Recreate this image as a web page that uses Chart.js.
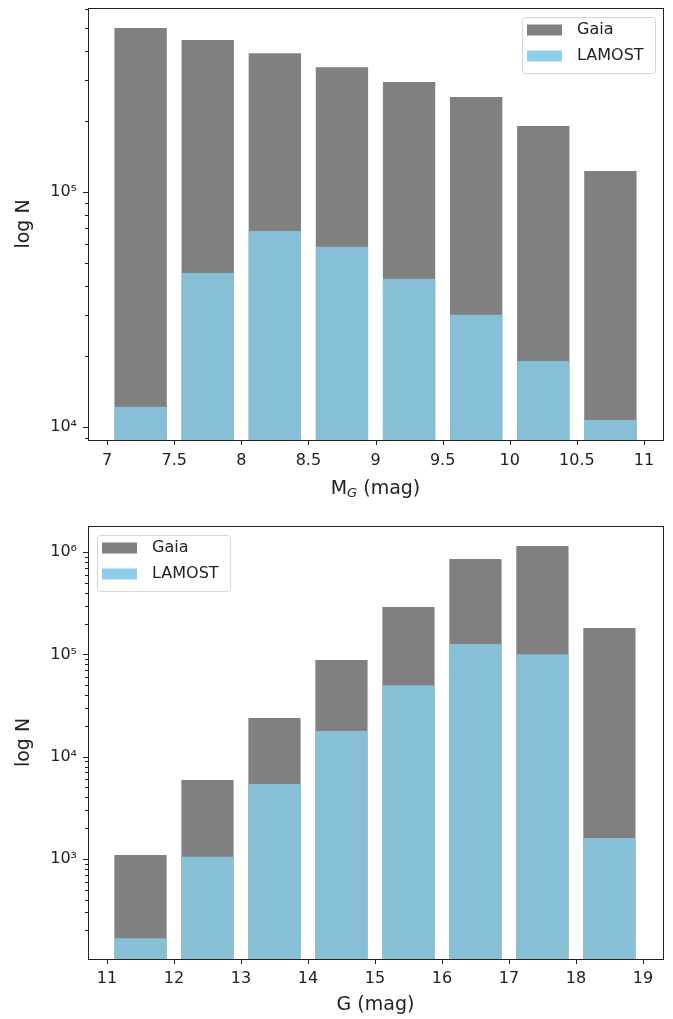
<!DOCTYPE html>
<html>
<head>
<meta charset="utf-8">
<script src="https://cdn.jsdelivr.net/npm/chart.js@4.4.1/dist/chart.umd.min.js"></script>
<style>
  html, body { margin: 0; padding: 0; background: #fff; }
  canvas { display: block; }
</style>
</head>
<body>
<canvas id="chart-abs" width="673" height="505"></canvas>
<canvas id="chart-app" width="673" height="514"></canvas>
<script>
// absolute magnitude bins (top panel)
const absBins   = [7.25, 7.75, 8.25, 8.75, 9.25, 9.75, 10.25, 10.75];
const absGaia   = [499000, 444000, 390000, 340000, 294000, 254000, 191000, 123000];
const absLamost = [12200, 45200, 68200, 58500, 42700, 30000, 19100, 10700];

// apparent magnitude bins (bottom panel)
const appBins   = [11.5, 12.5, 13.5, 14.5, 15.5, 16.5, 17.5, 18.5];
const appGaia   = [1090, 5900, 23900, 88000, 290000, 857000, 1150000, 181000];
const appLamost = [168, 1050, 5400, 17800, 50000, 126000, 100000, 1600];

const seriesNames = ['Gaia', 'LAMOST'];

const GAIA_COLOR = '#808080';
const LAMOST_COLOR = 'rgba(135,206,235,0.8)';
const LAMOST_SWATCH = '#8dcfea';
const INK = '#222';
const FONT = "'DejaVu Sans', sans-serif";
const SUP = '⁰¹²³⁴⁵⁶⁷⁸⁹';

function powLabel(v) {
  const e = Math.round(Math.log10(v));
  if (Math.abs(v - Math.pow(10, e)) > 1e-6 * v) return '';
  return '10' + String(e).split('').map(d => SUP[+d]).join('');
}

function logTicks(min, max) {
  const ticks = [];
  for (let e = Math.floor(Math.log10(min)); e <= Math.ceil(Math.log10(max)); e++) {
    for (let m = 1; m <= 9; m++) {
      const v = m * Math.pow(10, e);
      if (v >= min && v <= max) ticks.push({ value: v, major: m === 1 });
    }
  }
  return ticks;
}

function stepTicks(min, max, step) {
  const ticks = [];
  for (let k = Math.ceil(min / step); k * step <= max + 1e-9; k++) {
    ticks.push({ value: Math.round(k * step * 1000) / 1000 });
  }
  return ticks;
}

function roundRect(ctx, x, y, w, h, r) {
  ctx.beginPath();
  ctx.moveTo(x + r, y);
  ctx.lineTo(x + w - r, y);
  ctx.arcTo(x + w, y, x + w, y + r, r);
  ctx.lineTo(x + w, y + h - r);
  ctx.arcTo(x + w, y + h, x + w - r, y + h, r);
  ctx.lineTo(x + r, y + h);
  ctx.arcTo(x, y + h, x, y + h - r, r);
  ctx.lineTo(x, y + r);
  ctx.arcTo(x, y, x + r, y, r);
  ctx.closePath();
}

// frame, tick marks, legend box and axis titles, matplotlib style
const mplDecor = {
  id: 'mplDecor',
  afterDraw(chart, args, opts) {
    const ctx = chart.ctx;
    const a = chart.chartArea;
    const xs = chart.scales.x, ys = chart.scales.y;
    ctx.save();

    ctx.strokeStyle = INK;
    ctx.lineWidth = 1;
    ctx.beginPath();
    xs.ticks.forEach(t => {
      const px = Math.round(xs.getPixelForValue(t.value)) + 0.5;
      ctx.moveTo(px, a.bottom);
      ctx.lineTo(px, a.bottom + 5);
    });
    ys.ticks.forEach(t => {
      const py = Math.round(ys.getPixelForValue(t.value)) + 0.5;
      ctx.moveTo(a.left, py);
      ctx.lineTo(a.left - (t.major ? 5 : 3), py);
    });
    ctx.stroke();
    ctx.strokeRect(Math.round(a.left) + 0.5, Math.round(a.top) + 0.5,
                   Math.round(a.right - a.left), Math.round(a.bottom - a.top));

    // legend
    const w = 133, h = 56;
    const lx = opts.legendSide === 'right' ? a.right - 8 - w : a.left + 9;
    const ly = a.top + 9;
    roundRect(ctx, lx + 0.5, ly + 0.5, w, h, 3);
    ctx.fillStyle = 'rgba(255,255,255,0.8)';
    ctx.fill();
    ctx.strokeStyle = '#d6d6d6';
    ctx.stroke();
    ctx.font = '16px ' + FONT;
    ctx.textBaseline = 'middle';
    ctx.textAlign = 'left';
    chart.data.datasets.forEach((ds, i) => {
      const cy = ly + 13 + i * 26;
      ctx.fillStyle = ds.swatch;
      ctx.fillRect(lx + 5, cy - 5.5, 35, 11);
      ctx.fillStyle = INK;
      ctx.fillText(ds.label, lx + 55, cy);
    });

    // y title
    ctx.save();
    ctx.translate(24, (a.top + a.bottom) / 2);
    ctx.rotate(-Math.PI / 2);
    ctx.textAlign = 'center';
    ctx.font = '19px ' + FONT;
    ctx.fillStyle = INK;
    ctx.fillText('log N', 0, 0);
    ctx.restore();

    // x title, parts may carry a subscript
    const parts = opts.xTitle;
    let total = 0;
    parts.forEach(p => {
      ctx.font = p.sub ? 'italic 13px ' + FONT : '19px ' + FONT;
      p.w = ctx.measureText(p.text).width;
      total += p.w;
    });
    let x = (a.left + a.right) / 2 - total / 2;
    ctx.fillStyle = INK;
    parts.forEach(p => {
      ctx.font = p.sub ? 'italic 13px ' + FONT : '19px ' + FONT;
      ctx.fillText(p.text, x, opts.xTitleY + (p.sub ? 5 : 0));
      x += p.w;
    });

    ctx.restore();
  }
};

function makeChart(id, bins, gaia, lamost, cfg) {
  const ctx = document.getElementById(id).getContext('2d');
  return new Chart(ctx, {
    type: 'bar',
    data: {
      datasets: [
        {
          label: seriesNames[0],
          data: bins.map((b, i) => ({ x: b, y: gaia[i] })),
          backgroundColor: GAIA_COLOR,
          swatch: GAIA_COLOR,
          borderWidth: 0,
          grouped: false,
          order: 1,
          barPercentage: 0.78,
          categoryPercentage: 1.0,
        },
        {
          label: seriesNames[1],
          data: bins.map((b, i) => ({ x: b, y: lamost[i] })),
          backgroundColor: LAMOST_COLOR,
          swatch: LAMOST_SWATCH,
          borderWidth: 0,
          grouped: false,
          order: 0,
          barPercentage: 0.78,
          categoryPercentage: 1.0,
        }
      ]
    },
    options: {
      responsive: false,
      animation: false,
      layout: { padding: { left: 0, right: 10, top: cfg.top, bottom: 0 } },
      plugins: {
        legend: { display: false },
        tooltip: { enabled: false },
        mplDecor: { legendSide: cfg.legendSide, xTitle: cfg.xTitle, xTitleY: cfg.xTitleY },
      },
      scales: {
        x: {
          type: 'linear',
          min: cfg.xMin,
          max: cfg.xMax,
          bounds: 'data',
          offset: false,
          grid: { display: false, drawTicks: true, tickLength: 5, offset: false },
          border: { display: false },
          afterBuildTicks: s => { s.ticks = stepTicks(s.min, s.max, cfg.xStep); },
          ticks: {
            autoSkip: false,
            maxRotation: 0,
            padding: cfg.xPad,
            color: INK,
            font: { family: FONT, size: 16 },
            callback: v => String(v),
          },
          afterFit: s => { s.height = cfg.xAxisH; s.paddingLeft = 0; s.paddingRight = 0; },
        },
        y: {
          type: 'logarithmic',
          min: cfg.yMin,
          max: cfg.yMax,
          bounds: 'data',
          grid: { display: false, drawTicks: true, tickLength: 5 },
          border: { display: false },
          afterBuildTicks: s => { s.ticks = logTicks(s.min, s.max); },
          ticks: {
            autoSkip: false,
            padding: 6,
            color: INK,
            font: { family: FONT, size: 16 },
            callback: v => powLabel(v),
          },
          afterFit: s => { s.width = 88; s.paddingTop = 0; s.paddingBottom = 0; },
        }
      }
    },
    plugins: [mplDecor]
  });
}

makeChart('chart-abs', absBins, absGaia, absLamost, {
  top: 8, xAxisH: 65, xPad: 6,
  xMin: 6.858, xMax: 11.142, xStep: 0.5,
  yMin: 8800, yMax: 607000,
  legendSide: 'right',
  xTitle: [{ text: 'M' }, { text: 'G', sub: true }, { text: ' (mag)' }],
  xTitleY: 489,
});

makeChart('chart-app', appBins, appGaia, appLamost, {
  top: 21, xAxisH: 60, xPad: 5,
  xMin: 10.716, xMax: 19.3, xStep: 1,
  yMin: 105, yMax: 1800000,
  legendSide: 'left',
  xTitle: [{ text: 'G (mag)' }],
  xTitleY: 500,
});
</script>
</body>
</html>
